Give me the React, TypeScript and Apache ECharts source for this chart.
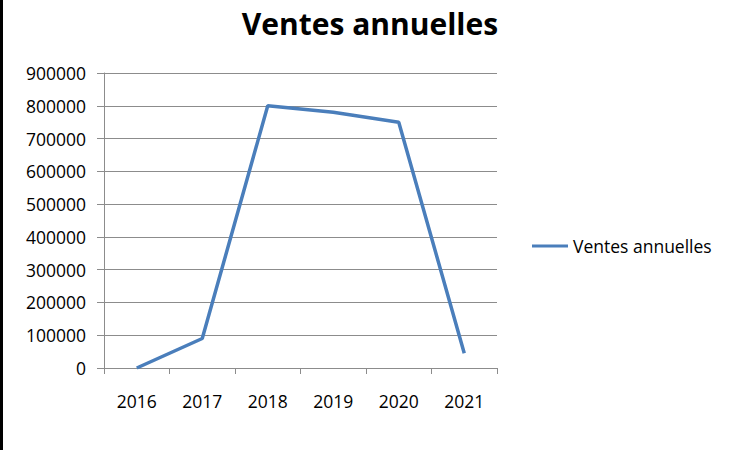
import React, { useEffect, useRef } from "react";
import * as echarts from "echarts";

const titleText = "Ventes annuelles";
const seriesName = "Ventes annuelles";
const years = ["2016", "2017", "2018", "2019", "2020", "2021"];
const sales = [0, 90000, 800000, 780000, 750000, 45000];
const yMin = 0;
const yMax = 900000;
const yStep = 100000;

export default function App() {
  const ref = useRef<HTMLDivElement>(null);
  useEffect(() => {
    if (!ref.current) return;
    const chart = echarts.init(ref.current, null, { renderer: "svg" });
    const font = "'Open Sans', sans-serif";
    const gray = "#8c8c8c";
    chart.setOption({
      animation: false,
      backgroundColor: "#ffffff",
      title: {
        text: titleText,
        left: 365,
        textAlign: "center",
        top: 3,
        textStyle: { fontFamily: font, fontSize: 30, fontWeight: "bold", color: "#000000" },
      },
      legend: {
        left: 527,
        top: 232,
        icon: "rect",
        itemWidth: 36,
        itemHeight: 3,
        itemGap: 10,
        textStyle: { fontFamily: font, fontSize: 17.5, color: "#000000", padding: [0, 0, 0, 0] },
        data: [seriesName],
      },
      grid: { left: 104, right: 233, top: 73, bottom: 82, containLabel: false },
      xAxis: {
        type: "category",
        data: years,
        boundaryGap: true,
        axisLine: { show: true, lineStyle: { color: gray, width: 1 } },
        axisTick: { show: true, length: 6, lineStyle: { color: gray } },
        axisLabel: { fontFamily: font, fontSize: 17.5, color: "#000000", margin: 24 },
        splitLine: { show: false },
      },
      yAxis: {
        type: "value",
        min: yMin,
        max: yMax,
        interval: yStep,
        axisLine: { show: true, lineStyle: { color: gray, width: 1 } },
        axisTick: { show: true, length: 7, lineStyle: { color: gray } },
        axisLabel: {
          fontFamily: font,
          fontSize: 17.5,
          color: "#000000",
          margin: 18,
          formatter: (v: number) => String(v),
        },
        splitLine: { show: true, lineStyle: { color: gray, width: 1 } },
      },
      series: [
        {
          name: seriesName,
          type: "line",
          data: sales,
          showSymbol: false,
          symbol: "none",
          lineStyle: { color: "#4a7ebb", width: 3.5 },
          itemStyle: { color: "#4a7ebb" },
        },
      ],
      graphic: [
        { type: "rect", left: 0, top: 0, shape: { width: 3, height: 450 }, style: { fill: "#000000" } },
      ],
    });
    return () => chart.dispose();
  }, []);
  return (
    <div
      ref={ref}
      style={{ position: "fixed", left: 0, top: 0, width: 730, height: 450, background: "#fff" }}
    />
  );
}
